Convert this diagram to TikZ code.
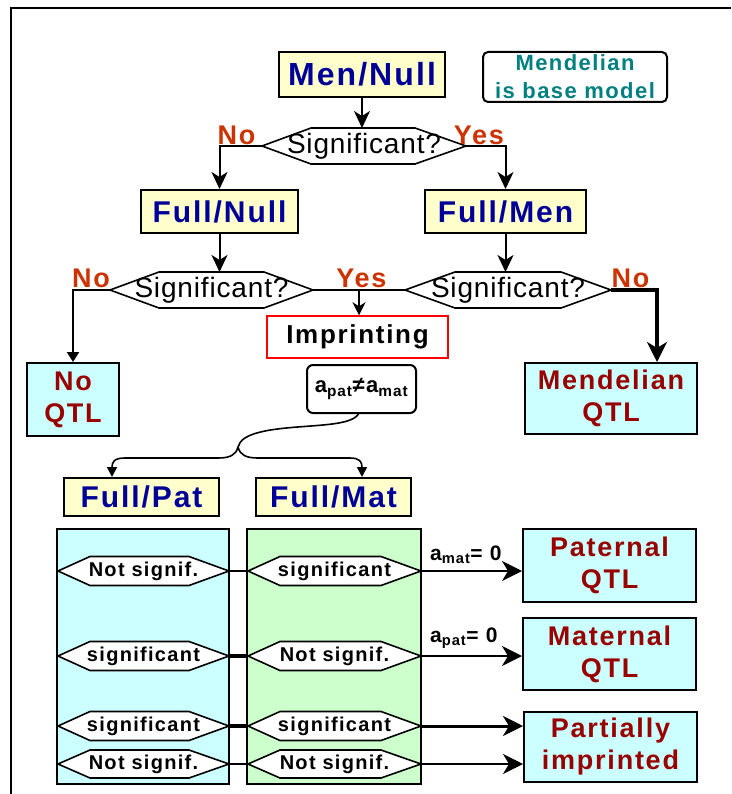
\documentclass[tikz,border=0pt]{standalone}
\usepackage{fontspec}
\setmainfont{Liberation Sans}
\newfontfamily\bsf{Liberation Sans}[LetterSpace=6.5]
\newfontfamily\rsf{Liberation Sans}[LetterSpace=3]
\usetikzlibrary{arrows.meta}
\definecolor{boxyellow}{HTML}{FFFFCC}
\definecolor{navyc}{HTML}{000099}
\definecolor{darkredc}{HTML}{990000}
\definecolor{orangec}{HTML}{CC3300}
\definecolor{tealc}{HTML}{008080}
\definecolor{cyanbox}{HTML}{CCFFFF}
\definecolor{greenbox}{HTML}{CCFFCC}
\newcommand\hexshape[9]{%
  \coordinate (#1-L) at (#3,#2);
  \coordinate (#1-R) at (#6,#2);
  \coordinate (#1-T) at ({(#4+#5)/2},{#2-#7});
  \draw[hexline] (#4,{#2-#7}) -- (#5,{#2-#7}) -- (#1-R) -- (#5,{#2+#7}) -- (#4,{#2+#7}) -- (#1-L) -- cycle;
  \node[#8] (#1) at ({(#3+#6)/2},#2) {#9};
}
\tikzset{
  ybox/.style={draw, line width=2pt, fill=boxyellow, text=navyc, inner sep=0pt,
    font=\bsf\bfseries\fontsize{30}{32}\selectfont},
  cbox/.style={draw, line width=2pt, fill=cyanbox, text=darkredc, inner sep=0pt, align=center,
    font=\bsf\bfseries\fontsize{27}{32}\selectfont},
  lab/.style={text=orangec, inner sep=0pt, font=\bsf\bfseries\fontsize{27}{27}\selectfont},
  hexline/.style={line width=1.6pt, fill=white},
  sigtext/.style={inner sep=0pt, font=\rsf\fontsize{28}{28}\selectfont},
  rowtext/.style={inner sep=0pt, font=\bsf\bfseries\fontsize{20}{20}\selectfont},
  conn/.style={line width=2pt},
  bigarr/.style={conn, -{Stealth[length=17pt,width=16pt,inset=5pt]}},
  smallarr/.style={conn, -{Triangle[length=10pt,width=12pt]}},
  midarr/.style={conn, -{Stealth[length=13pt,width=13pt,inset=4pt]}},
  rowarr/.style={conn, -{Stealth[length=20pt,width=20pt,inset=6pt]}},
  bracearr/.style={line width=1.6pt, -{Triangle[length=10pt,width=10pt]}},
}
\begin{document}
\begin{tikzpicture}[x=1pt,y=-1pt]
\useasboundingbox (0,0) rectangle (731,794);
% frame
\draw[line width=2.5pt] (11,794) -- (11,8) -- (731,8);

% top boxes
\node[ybox, minimum width=166pt, minimum height=45pt, font=\bsf\bfseries\fontsize{32}{32}\selectfont] (mennull) at (362,74.5) {Men/Null};
\node[draw, line width=2pt, rounded corners=5pt, fill=white, text=tealc, align=center, inner sep=0pt,
  minimum width=184pt, minimum height=50pt, font=\bsf\bfseries\fontsize{22}{28}\selectfont] (mendel) at (575,77) {Mendelian\\is base model};

\hexshape{hexa}{146}{262}{311}{415}{466}{18}{sigtext}{Significant?}
\node[lab] (no1) at (236.5,135) {No};
\node[lab] (yes1) at (479,135) {Yes};

\node[ybox, minimum width=157pt, minimum height=43pt] (fnull) at (219.5,211.5) {Full/Null};
\node[ybox, minimum width=161pt, minimum height=43pt] (fmen) at (505.5,211.5) {Full/Men};

\hexshape{hexb}{290}{110}{159}{264}{313}{18}{sigtext}{Significant?}
\hexshape{hexc}{290}{405}{455}{561}{611}{18}{sigtext}{Significant?}
\node[lab] (no2) at (91,278) {No};
\node[lab] (yes2) at (361.5,278) {Yes};
\node[lab] (no3) at (630.5,278) {No};

\node[draw=red, line width=1.5pt, fill=white, inner sep=0pt, minimum width=181pt, minimum height=42pt,
  font=\bsf\bfseries\fontsize{26}{26}\selectfont] (imp) at (357.5,337) {Imprinting};
\node[draw, line width=2pt, rounded corners=6pt, fill=white, inner sep=0pt, minimum width=109pt, minimum height=48pt,
  font=\bsf\bfseries\fontsize{22}{22}\selectfont] (ap) at (361.5,389) {a\textsubscript{pat}≠a\textsubscript{mat}};

\node[cbox, minimum width=92pt, minimum height=73pt] (noqtl) at (73,399.5) {No\\QTL};
\node[cbox, minimum width=172pt, minimum height=71pt] (mendqtl) at (611,398.5) {Mendelian\\QTL};

\node[ybox, minimum width=155pt, minimum height=38pt] (fpat) at (141.5,497) {Full/Pat};
\node[ybox, minimum width=155pt, minimum height=38pt] (fmat) at (333.5,497) {Full/Mat};

% columns
\node[draw, line width=2pt, fill=cyanbox, minimum width=172pt, minimum height=255pt, inner sep=0pt] (colL) at (143,656.5) {};
\node[draw, line width=2pt, fill=greenbox, minimum width=174pt, minimum height=255pt, inner sep=0pt] (colR) at (334,656.5) {};

% result boxes
\node[cbox, minimum width=173pt, minimum height=73pt] (pqtl) at (609.5,565.5) {Paternal\\QTL};
\node[cbox, minimum width=173pt, minimum height=72pt] (mqtl) at (609.5,654) {Maternal\\QTL};
\node[cbox, minimum width=173pt, minimum height=70pt] (part) at (610.5,747) {Partially\\imprinted};

% row hexagons
\hexshape{la}{571}{58}{90}{189}{229}{14.5}{rowtext}{Not signif.}
\hexshape{ra}{571}{248}{280}{381}{421}{14.5}{rowtext}{significant}
\hexshape{lb}{656}{58}{90}{189}{229}{14.5}{rowtext}{significant}
\hexshape{rb}{656}{248}{280}{381}{421}{14.5}{rowtext}{Not signif.}
\hexshape{lc}{726}{58}{90}{189}{229}{14.5}{rowtext}{significant}
\hexshape{rc}{726}{248}{280}{381}{421}{14.5}{rowtext}{significant}
\hexshape{ld}{764}{58}{90}{189}{229}{14}{rowtext}{Not signif.}
\hexshape{rd}{764}{248}{280}{381}{421}{14}{rowtext}{Not signif.}

\node[anchor=base west, inner sep=0pt, font=\bsf\bfseries\fontsize{21}{21}\selectfont] (amat) at (430,560) {a\textsubscript{mat}= 0};
\node[anchor=base west, inner sep=0pt, font=\bsf\bfseries\fontsize{21}{21}\selectfont] (apat) at (430,642) {a\textsubscript{pat}= 0};

% connectors top
\draw[bigarr] (mennull.south) -- (mennull.south |- hexa-T);
\draw[bigarr] (hexa-L) -- (fnull.north |- hexa-L) -- (fnull.north);
\draw[bigarr] (hexa-R) -- (fmen.north |- hexa-R) -- (fmen.north);
\draw[bigarr] (fnull.south) -- (fnull.south |- hexb-T);
\draw[bigarr] (fmen.south) -- (fmen.south |- hexc-T);
\draw[conn] (hexb-R) -- (hexc-L);
\draw[midarr] ([xshift=1.5pt]imp.north |- hexb-R) -- ([xshift=1.5pt]imp.north);
\draw[smallarr] (hexb-L) -- (noqtl.north |- hexb-L) -- (noqtl.north);
\draw[line width=4pt, -{Stealth[length=20pt,width=20pt,inset=6pt]}] (hexc-R) -- ([xshift=46pt]mendqtl.north |- hexc-R) -- ([xshift=46pt]mendqtl.north);

% brace connector
\coordinate (brace) at (238,447);
\draw[line width=1.6pt] ([xshift=-3pt]ap.south) .. controls (350,428) and (300,424) .. (265,431) .. controls (246,435) and (240,440) .. (brace);
\draw[bracearr] (brace) .. controls (236,455) and (230,458) .. (218,458) -- (125,458) .. controls (114,458) and (112,462) .. ([xshift=-29.5pt]fpat.north);
\draw[bracearr] (brace) .. controls (240,455) and (246,458) .. (258,458) -- (350,458) .. controls (360,458) and (362,462) .. ([xshift=28.5pt]fmat.north);

% row connectors
\draw[conn] (la-R) -- (ra-L);
\draw[line width=4.5pt] (lb-R) -- (rb-L);
\draw[line width=4.5pt] (lc-R) -- (rc-L);
\draw[conn] (ld-R) -- (rd-L);
\draw[rowarr] (ra-R) -- (ra-R -| pqtl.west);
\draw[rowarr] (rb-R) -- (rb-R -| mqtl.west);
\draw[rowarr, line width=3pt] (rc-R) -- (rc-R -| part.west);
\draw[rowarr] (rd-R) -- (rd-R -| part.west);
\end{tikzpicture}
\end{document}
